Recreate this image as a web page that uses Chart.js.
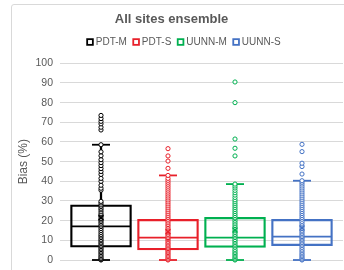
<!DOCTYPE html>
<html>
<head>
<meta charset="utf-8">
<script src="https://cdn.jsdelivr.net/npm/chart.js@4/dist/chart.umd.min.js"></script>
<style>
  html, body { margin: 0; padding: 0; background: #fff; }
  #wrap { position: relative; width: 344px; height: 270px; overflow: hidden; }
  #frame { position: absolute; left: 11px; top: 4px; width: 400px; height: 400px; border: 1px solid #d9d9d9; border-radius: 3px; box-sizing: border-box; pointer-events: none; }
  canvas { position: absolute; left: 0; top: 0; }
</style>
</head>
<body>
<div id="wrap">
  <canvas id="c" width="344" height="270"></canvas>
  <div id="frame"></div>
</div>
<script>
// ---- data ----
const seriesNames = ['PDT-M', 'PDT-S', 'UUNN-M', 'UUNN-S'];
const seriesColors = ['#000000', '#e8202a', '#00b050', '#4472c4'];

// box statistics per series
const q1Values     = [6.5, 5.1, 6.4, 7.3];
const medianValues = [17.1, 11.4, 11.4, 11.9];
const q3Values     = [28.0, 20.7, 21.7, 20.7];
const whiskerLow   = [0, 0, 0, 0];
const whiskerHigh  = [58.6, 43.0, 38.6, 40.3];
const meanValues   = [21.5, 14.4, 15.2, 16.3];

// individual points per series (estimated)
const pointsPdtM = [0, 0.3, 0.8, 1.5, 2.2, 3, 3.8, 4.5, 5.3, 6, 6.8, 7.5, 8.3, 9, 9.8, 10.5, 11.4, 12.2, 13, 14, 15, 16, 17, 17.8, 18.7, 19.5, 20.3, 21, 22, 22.8, 23.5, 24.5, 25.5, 26.3, 27.2, 28, 29, 29.8, 35.5, 36.5, 38, 40, 41.5, 43.5, 45, 46.5, 48, 49.5, 51, 53, 55, 58.6, 66.1, 67.5, 69.2, 70.5, 71.9, 73.5];
const pointsPdtS = [0, 0.4, 1, 1.7, 2.4, 3.1, 3.8, 4.5, 5.1, 5.8, 6.5, 7.2, 8, 8.7, 9.5, 10.3, 11, 11.4, 12.2, 13, 13.8, 14.6, 15.5, 16.3, 17.2, 18, 18.9, 19.8, 20.7, 21.6, 22.5, 23.5, 24.5, 25.5, 26.5, 27.5, 28.5, 29.5, 30.5, 31.5, 32.5, 33.5, 34.5, 35.5, 36.5, 37.5, 38.5, 39.5, 40.5, 41.5, 43, 46.6, 50.3, 52.9, 56.6];
const pointsUunnM = [0, 0.4, 1, 1.7, 2.4, 3.1, 3.8, 4.6, 5.4, 6.4, 7.2, 8, 8.8, 9.6, 10.4, 11.4, 12.2, 13, 13.9, 14.8, 15.7, 16.6, 17.5, 18.4, 19.3, 20.2, 21.1, 21.7, 22.6, 23.6, 24.6, 25.6, 26.6, 27.6, 28.6, 29.6, 30.6, 31.8, 33, 34.2, 35.4, 36.6, 37.6, 38.6, 52.9, 56.8, 61.5, 80, 90.5];
const pointsUunnS = [0, 0.4, 1, 1.7, 2.4, 3.1, 3.9, 4.7, 5.5, 6.4, 7.3, 8.1, 8.9, 9.7, 10.5, 11.2, 11.9, 12.7, 13.5, 14.3, 15.1, 16, 16.9, 17.8, 18.7, 19.6, 20.7, 21.6, 22.6, 23.6, 24.6, 25.6, 26.6, 27.6, 28.6, 29.6, 30.6, 31.6, 32.6, 33.6, 34.6, 35.6, 36.6, 37.6, 38.6, 39.5, 40.3, 43.7, 47.5, 49.2, 55.1, 58.8];
const seriesPoints = [pointsPdtM, pointsPdtS, pointsUunnM, pointsUunnS];

const yTicks = [0, 10, 20, 30, 40, 50, 60, 70, 80, 90, 100];

// ---- build datasets ----
const BOX_W = 61;
const datasets = [];
seriesNames.forEach((name, i) => {
  const col = seriesColors[i];
  // box q1..q3
  datasets.push({ type: 'bar', label: name, order: 5, grouped: false, barThickness: BOX_W,
    data: [{ x: i, y: [q1Values[i], q3Values[i]] }],
    backgroundColor: 'rgba(255,255,255,0)', borderColor: col, borderWidth: 1.6, borderSkipped: false });
  // whisker stem
  datasets.push({ type: 'bar', label: name + ' whisker', order: 6, grouped: false, barThickness: 1.6,
    data: [{ x: i, y: [whiskerLow[i], whiskerHigh[i]] }],
    backgroundColor: col, borderWidth: 0 });
  // median line across the box
  datasets.push({ type: 'line', label: name + ' median', order: 4, showLine: false, clip: false,
    data: [{ x: i, y: medianValues[i] }],
    pointStyle: 'line', pointRadius: BOX_W / 2 - 0.5, pointBorderWidth: 1.6, borderColor: col, pointBorderColor: col });
  // whisker caps
  datasets.push({ type: 'line', label: name + ' caps', order: 3, showLine: false, clip: false,
    data: [{ x: i, y: whiskerLow[i] }, { x: i, y: whiskerHigh[i] }],
    pointStyle: 'line', pointRadius: 9, pointBorderWidth: 1.8, borderColor: col, pointBorderColor: col });
  // individual points
  datasets.push({ type: 'line', label: name + ' points', order: 2, showLine: false, clip: false,
    data: seriesPoints[i].map(v => ({ x: i, y: v })),
    pointStyle: 'circle', pointRadius: 2.1, pointBorderWidth: 1,
    pointBorderColor: col, pointBackgroundColor: '#ffffff', borderColor: col });
  // mean marker
  datasets.push({ type: 'line', label: name + ' mean', order: 1, showLine: false, clip: false,
    data: [{ x: i, y: meanValues[i] }],
    pointStyle: 'crossRot', pointRadius: 3.5, pointBorderWidth: 1.4,
    pointBorderColor: col, borderColor: col });
});

// legend drawn as text + hollow squares under the title
const boxLegend = {
  id: 'boxLegend',
  afterDraw(chart) {
    const ctx = chart.ctx;
    ctx.save();
    ctx.font = "10px 'Liberation Sans', Arial, sans-serif";
    ctx.textBaseline = 'middle';
    ctx.textAlign = 'left';
    const box = 7.5, gapIn = 2, gapOut = 5.5, cy = 42;
    const widths = seriesNames.map(n => ctx.measureText(n).width);
    const total = widths.reduce((a, w) => a + box + gapIn + w, 0) + gapOut * (seriesNames.length - 1);
    let x = 183.5 - total / 2;
    seriesNames.forEach((n, i) => {
      ctx.strokeStyle = seriesColors[i];
      ctx.lineWidth = 1.8;
      ctx.fillStyle = '#ffffff';
      ctx.fillRect(x + 0.9, cy - box / 2 + 0.9, box - 1.8, box - 1.8);
      ctx.strokeRect(x + 0.9, cy - box / 2 + 0.9, box - 1.8, box - 1.8);
      ctx.fillStyle = '#595959';
      ctx.fillText(n, x + box + gapIn, cy + 0.5);
      x += box + gapIn + widths[i] + gapOut;
    });
    ctx.restore();
  }
};

Chart.defaults.font.family = "'Liberation Sans', Arial, sans-serif";
Chart.defaults.color = '#595959';

new Chart(document.getElementById('c'), {
  type: 'bar',
  data: { datasets },
  plugins: [boxLegend],
  options: {
    responsive: false,
    devicePixelRatio: 1,
    animation: false,
    events: [],
    layout: { autoPadding: false, padding: { top: 4, left: 0, right: 1, bottom: 10 } },
    plugins: {
      tooltip: { enabled: false },
      legend: { display: false },
      title: { display: true, text: 'All sites ensemble', color: '#595959',
        font: { size: 13, weight: 'bold' }, padding: { top: 8, bottom: 35.7 } }
    },
    scales: {
      x: { type: 'linear', display: false, min: -0.612, max: 3.612, offset: false,
        ticks: { stepSize: 1, includeBounds: false }, grid: { display: false } },
      y: {
        min: 0, max: 100,
        afterFit: s => { s.width = 60; s.paddingTop = 0; s.paddingBottom = 0; },
        afterBuildTicks: s => { s.ticks = yTicks.map(v => ({ value: v })); },
        ticks: { font: { size: 10.5 }, color: '#595959', padding: 7 },
        grid: { color: '#d9d9d9', lineWidth: 1, drawTicks: false },
        border: { display: false },
        title: { display: true, text: 'Bias (%)', color: '#595959', font: { size: 12 }, padding: { top: 16, bottom: 0 } }
      }
    }
  }
});
</script>
</body>
</html>
